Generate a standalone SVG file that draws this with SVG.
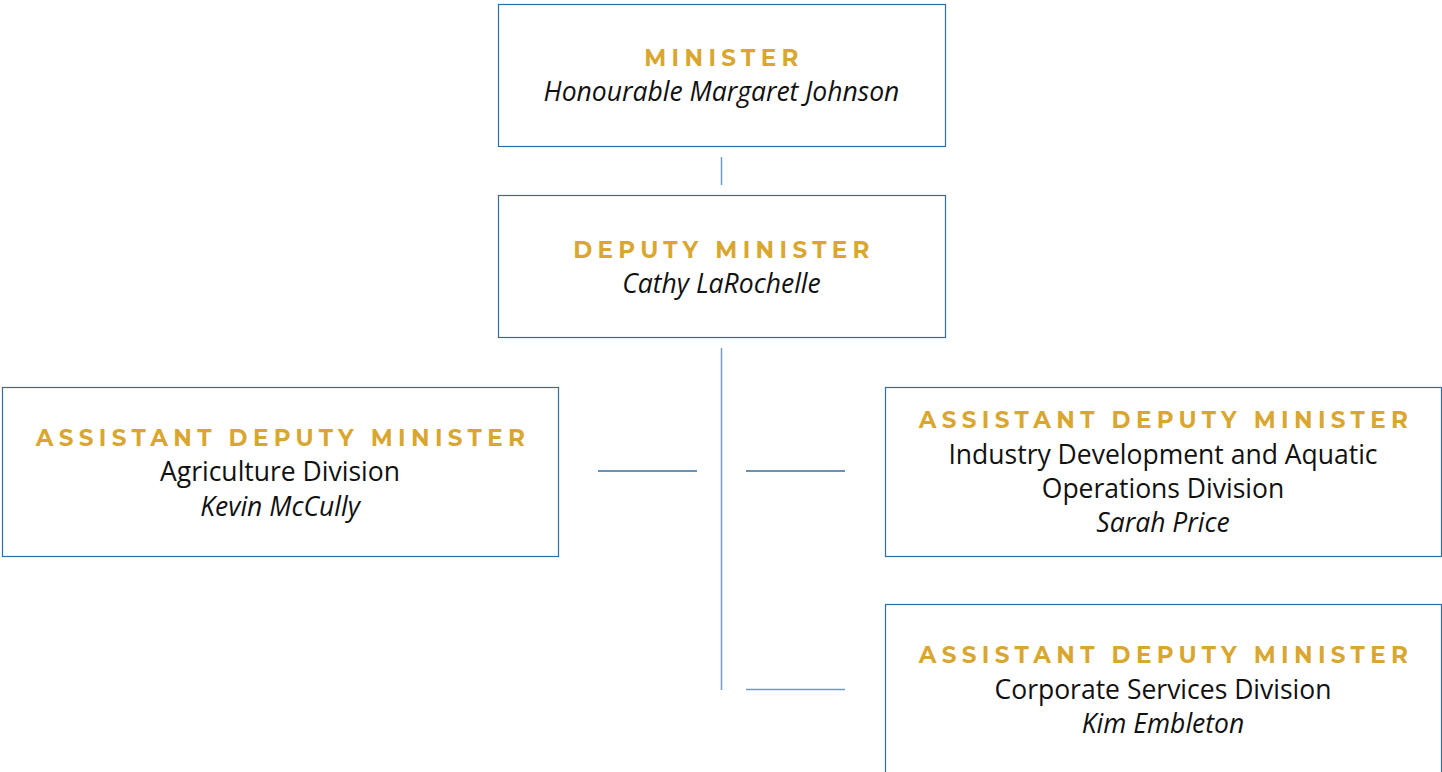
<svg xmlns="http://www.w3.org/2000/svg" width="1442" height="772" viewBox="0 0 1442 772">
<style>
.box{fill:#fff;stroke:#2f6ea5;stroke-width:1.2}
.t{font-family:"Montserrat","Open Sans","Liberation Sans",sans-serif;font-weight:700;font-size:23px;letter-spacing:5.35px;fill:#d9a72f;text-anchor:middle}
.n{font-family:"Open Sans","Liberation Sans",sans-serif;font-size:26.5px;fill:#111;text-anchor:middle}
.i{font-style:italic}
.c{stroke:#6f9cc4;stroke-width:1.5;fill:none}
</style>
<rect width="1442" height="772" fill="#fff"/>
<g id="connectors">
<line class="c" x1="721.5" y1="157" x2="721.5" y2="185"/>
<line class="c" x1="721.5" y1="348" x2="721.5" y2="690"/>
<line class="c" x1="598" y1="471" x2="697" y2="471" style="stroke:#2f6ea5"/>
<line class="c" x1="746" y1="471" x2="845" y2="471" style="stroke:#2f6ea5"/>
<line class="c" x1="746" y1="689.5" x2="845" y2="689.5"/>
</g>
<g id="minister">
<rect class="box" x="498.5" y="4.5" width="447" height="142"/>
<text class="t" x="724" y="66">MINISTER</text>
<text class="n i" x="721.5" y="101">Honourable Margaret Johnson</text>
</g>
<g id="deputy">
<rect class="box" x="498.5" y="195.5" width="447" height="142"/>
<text class="t" x="724" y="258">DEPUTY MINISTER</text>
<text class="n i" x="721.5" y="293">Cathy LaRochelle</text>
</g>
<g id="adm-agriculture">
<rect class="box" x="2.5" y="387.5" width="556" height="169"/>
<text class="t" x="283" y="446">ASSISTANT DEPUTY MINISTER</text>
<text class="n" x="280" y="481">Agriculture Division</text>
<text class="n i" x="280" y="516">Kevin McCully</text>
</g>
<g id="adm-industry">
<rect class="box" x="885.5" y="387.5" width="556" height="169"/>
<text class="t" x="1166" y="428">ASSISTANT DEPUTY MINISTER</text>
<text class="n" x="1163" y="464">Industry Development and Aquatic</text>
<text class="n" x="1163" y="498">Operations Division</text>
<text class="n i" x="1163" y="532">Sarah Price</text>
</g>
<g id="adm-corporate">
<rect class="box" x="885.5" y="604.5" width="556" height="180"/>
<text class="t" x="1166" y="663">ASSISTANT DEPUTY MINISTER</text>
<text class="n" x="1163" y="699">Corporate Services Division</text>
<text class="n i" x="1163" y="733">Kim Embleton</text>
</g>
</svg>
